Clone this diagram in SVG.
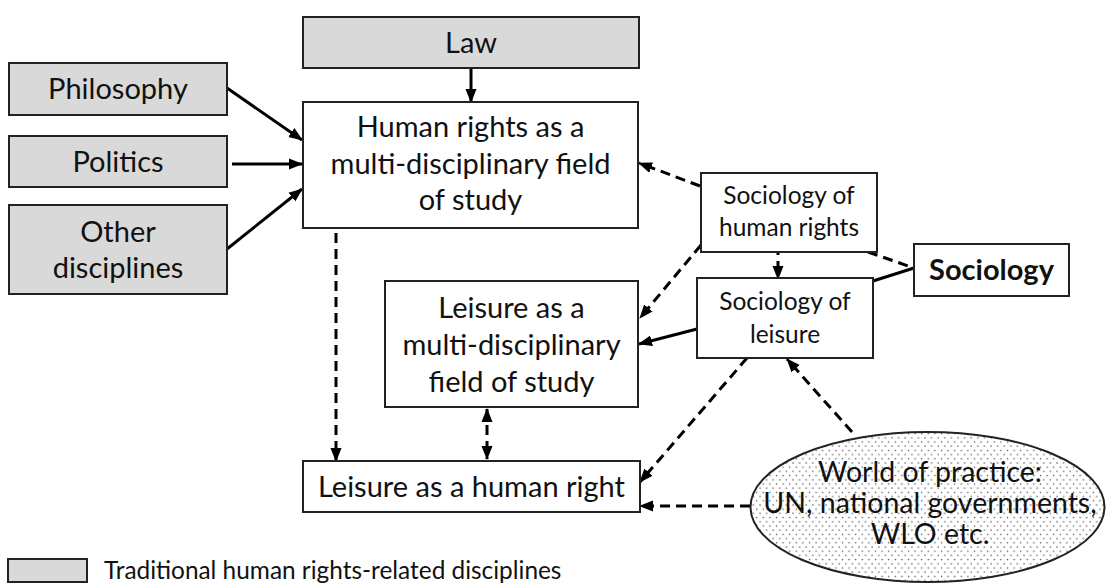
<svg xmlns="http://www.w3.org/2000/svg" width="1107" height="586" viewBox="0 0 1107 586">
<style>
.box{fill:#fff;stroke:#222;stroke-width:2}
.trad{fill:#d9d9d9;stroke:#222;stroke-width:2}
.t{font-family:Lato,"Open Sans","Liberation Sans",sans-serif;font-size:29px;fill:#111;text-anchor:middle}
.s{font-size:24.5px}
.e{font-size:28.5px}
.lg{font-size:24.4px}
.b{font-weight:bold}
.solid{stroke:#000;stroke-width:3;fill:none}
.dash{stroke:#000;stroke-width:3;fill:none;stroke-dasharray:10 6}
</style>
<defs>
<marker id="ah" markerUnits="userSpaceOnUse" markerWidth="14" markerHeight="12" refX="13" refY="6" orient="auto">
<path d="M0,0.5 L14,6 L0,11.5 Z" fill="#000"/>
</marker>
<marker id="ahs" markerUnits="userSpaceOnUse" markerWidth="14" markerHeight="12" refX="1" refY="6" orient="auto">
<path d="M14,0.5 L0,6 L14,11.5 Z" fill="#000"/>
</marker>
<pattern id="dots" width="6.6" height="8.4" patternUnits="userSpaceOnUse">
<rect width="6.6" height="8.4" fill="#fff"/>
<circle cx="1" cy="1" r="0.75" fill="#555"/>
<circle cx="4.3" cy="5.2" r="0.75" fill="#555"/>
</pattern>
</defs>

<g id="connectors">
<line class="solid" x1="471" y1="68" x2="471" y2="102" marker-end="url(#ah)"/>
<line class="solid" x1="227" y1="88" x2="302" y2="140" marker-end="url(#ah)"/>
<line class="solid" x1="232" y1="164" x2="302" y2="164" marker-end="url(#ah)"/>
<line class="solid" x1="227" y1="249" x2="302" y2="189" marker-end="url(#ah)"/>
<line class="dash" x1="336" y1="233" x2="336" y2="461" marker-end="url(#ah)"/>
<line class="dash" x1="487" y1="409" x2="487" y2="459" marker-start="url(#ahs)" marker-end="url(#ah)"/>
<line class="dash" x1="700" y1="186" x2="639" y2="163" marker-end="url(#ah)"/>
<line class="dash" x1="701" y1="245" x2="640" y2="318" marker-end="url(#ah)"/>
<line class="dash" x1="778" y1="245" x2="778" y2="279" marker-end="url(#ah)"/>
<line class="dash" x1="868" y1="252" x2="914" y2="268"/>
<line class="solid" x1="873" y1="281" x2="914" y2="268"/>
<line class="solid" x1="697" y1="329" x2="639" y2="344" marker-end="url(#ah)"/>
<line class="dash" x1="747" y1="358" x2="640" y2="482" marker-end="url(#ah)"/>
<line class="dash" x1="852" y1="432" x2="787" y2="359" marker-end="url(#ah)"/>
<line class="dash" x1="750" y1="506" x2="640" y2="506" marker-end="url(#ah)"/>
</g>

<g id="law">
<rect class="trad" x="303" y="17" width="336" height="51"/>
<text class="t" x="471" y="53">Law</text>
</g>
<g id="philosophy">
<rect class="trad" x="9" y="63" width="218" height="52"/>
<text class="t" x="118" y="99">Philosophy</text>
</g>
<g id="politics">
<rect class="trad" x="9" y="136" width="218" height="51"/>
<text class="t" x="118" y="172">Politics</text>
</g>
<g id="other">
<rect class="trad" x="9" y="205" width="218" height="89"/>
<text class="t" x="118" y="242">Other</text>
<text class="t" x="118" y="278">disciplines</text>
</g>
<g id="hr-field">
<rect class="box" x="303" y="102" width="335" height="126"/>
<text class="t" x="470.5" y="137">Human rights as a</text>
<text class="t" x="470.5" y="174">multi-disciplinary field</text>
<text class="t" x="470.5" y="210">of study</text>
</g>
<g id="leisure-field">
<rect class="box" x="385" y="281" width="253" height="126"/>
<text class="t" x="511.5" y="318">Leisure as a</text>
<text class="t" x="511.5" y="355">multi-disciplinary</text>
<text class="t" x="511.5" y="392">field of study</text>
</g>
<g id="leisure-right">
<rect class="box" x="303" y="461" width="337" height="51"/>
<text class="t" x="471.5" y="497">Leisure as a human right</text>
</g>
<g id="soc-hr">
<rect class="box" x="701" y="173" width="176" height="79"/>
<text class="t s" x="789" y="204">Sociology of</text>
<text class="t s" x="789" y="236">human rights</text>
</g>
<g id="soc-leisure">
<rect class="box" x="697" y="278" width="176" height="80"/>
<text class="t s" x="785" y="310">Sociology of</text>
<text class="t s" x="785" y="343">leisure</text>
</g>
<g id="sociology">
<rect class="box" x="914" y="244" width="155" height="52"/>
<text class="t b" x="991.5" y="280">Sociology</text>
</g>
<g id="practice">
<ellipse cx="927.5" cy="507" rx="177" ry="75" fill="url(#dots)" stroke="#222" stroke-width="2"/>
<text class="t e" x="930" y="482">World of practice:</text>
<text class="t e" x="930" y="513">UN, national governments,</text>
<text class="t e" x="930" y="544">WLO etc.</text>
</g>
<g id="legend">
<rect class="trad" x="8" y="559" width="79" height="23"/>
<text class="t lg" x="104" y="579" style="text-anchor:start">Traditional human rights-related disciplines</text>
</g>
</svg>
